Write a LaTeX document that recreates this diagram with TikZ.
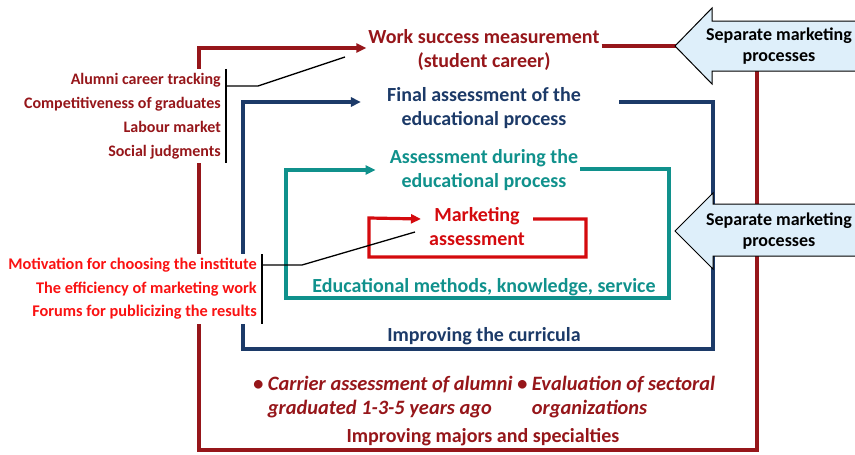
\documentclass[tikz,border=0pt]{standalone}
\usepackage{fontspec}
\setmainfont{Carlito}
\usetikzlibrary{arrows.meta}

\definecolor{wine}{RGB}{150,22,26}
\definecolor{navy}{RGB}{28,58,104}
\definecolor{teal}{RGB}{16,145,140}
\definecolor{mktred}{RGB}{212,10,14}
\definecolor{brightred}{RGB}{250,18,18}
\definecolor{skyfill}{RGB}{222,239,250}

\begin{document}
\begin{tikzpicture}[x=1pt,y=-1pt,
    loopline/.style={line width=3.2pt},
    tip/.style={-{Triangle[length=10pt,width=9pt]}},
    title/.style={font=\fontsize{20}{24}\selectfont\bfseries,align=center,inner sep=2pt},
    bullets/.style={font=\fontsize{20.4}{24}\selectfont\bfseries\itshape,align=left,anchor=west,inner sep=2pt,text=wine},
    sidelist/.style={font=\fontsize{16}{24}\selectfont\bfseries,align=right,fill=white,inner xsep=5pt,inner ysep=4pt},
    sepbox/.style={draw=black,line width=1pt,fill=skyfill},
    septext/.style={font=\fontsize{18}{21}\selectfont\bfseries,align=center}]
\useasboundingbox (0,0) rectangle (855,455);

% headings of the four loops
\node[title,text=wine] (work) at (484,50) {Work success measurement\\(student career)};
\node[title,text=navy] (final) at (484,108) {Final assessment of the\\educational process};
\node[title,text=teal] (during) at (484,170) {Assessment during the\\educational process};
\node[title,text=mktred] (mkt) at (477,227) {Marketing\\assessment};

% what each loop improves
\node[title,text=teal] (methods) at (484,287) {Educational methods, knowledge, service};
\node[title,text=navy] (curricula) at (484,336) {Improving the curricula};
\node[title,text=wine] (majors) at (483,437) {Improving majors and specialties};
\node[bullets] (alumni) at (251,397)
    {\textbullet\ Carrier assessment of alumni\\\phantom{\textbullet\ }graduated 1-3-5 years ago};
\node[bullets] (sectoral) at (515,397)
    {\textbullet\ Evaluation of sectoral\\\phantom{\textbullet\ }organizations};

% the loops
\draw[loopline,wine,tip] ([yshift=4pt]work.east) -| (757,450) -| (199,48) -- ([yshift=2pt]work.west);
\draw[loopline,navy,tip] ([xshift=36pt,yshift=6pt]final.east) -| (713,349) -| (243,102) -- ([xshift=-24pt,yshift=6pt]final.west);
\draw[loopline,teal,tip] ([yshift=1pt]during.east) -| (669,298) -| (286,170) -- ([xshift=-12pt]during.west);
\draw[loopline,mktred,tip] ([xshift=6pt,yshift=8pt]mkt.east) -| (586,257) -| (369,218) -- ([xshift=-6pt,yshift=8pt]mkt.west);

% side lists
\node[sidelist,text=wine,anchor=east] (career) at (226,116)
    {Alumni career tracking\\Competitiveness of graduates\\Labour market\\Social judgments};
\node[sidelist,text=brightred,anchor=east,font=\fontsize{16.3}{23.5}\selectfont\bfseries] (motiv) at (262,289)
    {Motivation for choosing the institute\\The efficiency of marketing work\\Forums for publicizing the results};

\coordinate (k1) at (258,86);
\coordinate (p1) at (345,57);
\coordinate (k2) at (302,265);
\coordinate (p2) at (415,232);
\draw[line width=1.8pt] (career.north east) -- (career.south east);
\draw[line width=1.3pt] (career.east |- k1) -- (k1) -- (p1);
\draw[line width=1.8pt] (motiv.north east) -- (motiv.south east);
\draw[line width=1.3pt] (motiv.east |- k2) -- (k2) -- (p2);

% separate marketing processes
\filldraw[sepbox] (675,46) -- (712,8) -- (712,21) -- (870,21) -- (870,71) -- (712,71) -- (712,84) -- cycle;
\node[septext] (sep1) at (779,46) {Separate marketing\\processes};
\filldraw[sepbox] (675,231) -- (713,193) -- (713,204) -- (870,204) -- (870,256) -- (713,256) -- (713,269) -- cycle;
\node[septext] (sep2) at (779,231) {Separate marketing\\processes};
\end{tikzpicture}
\end{document}
